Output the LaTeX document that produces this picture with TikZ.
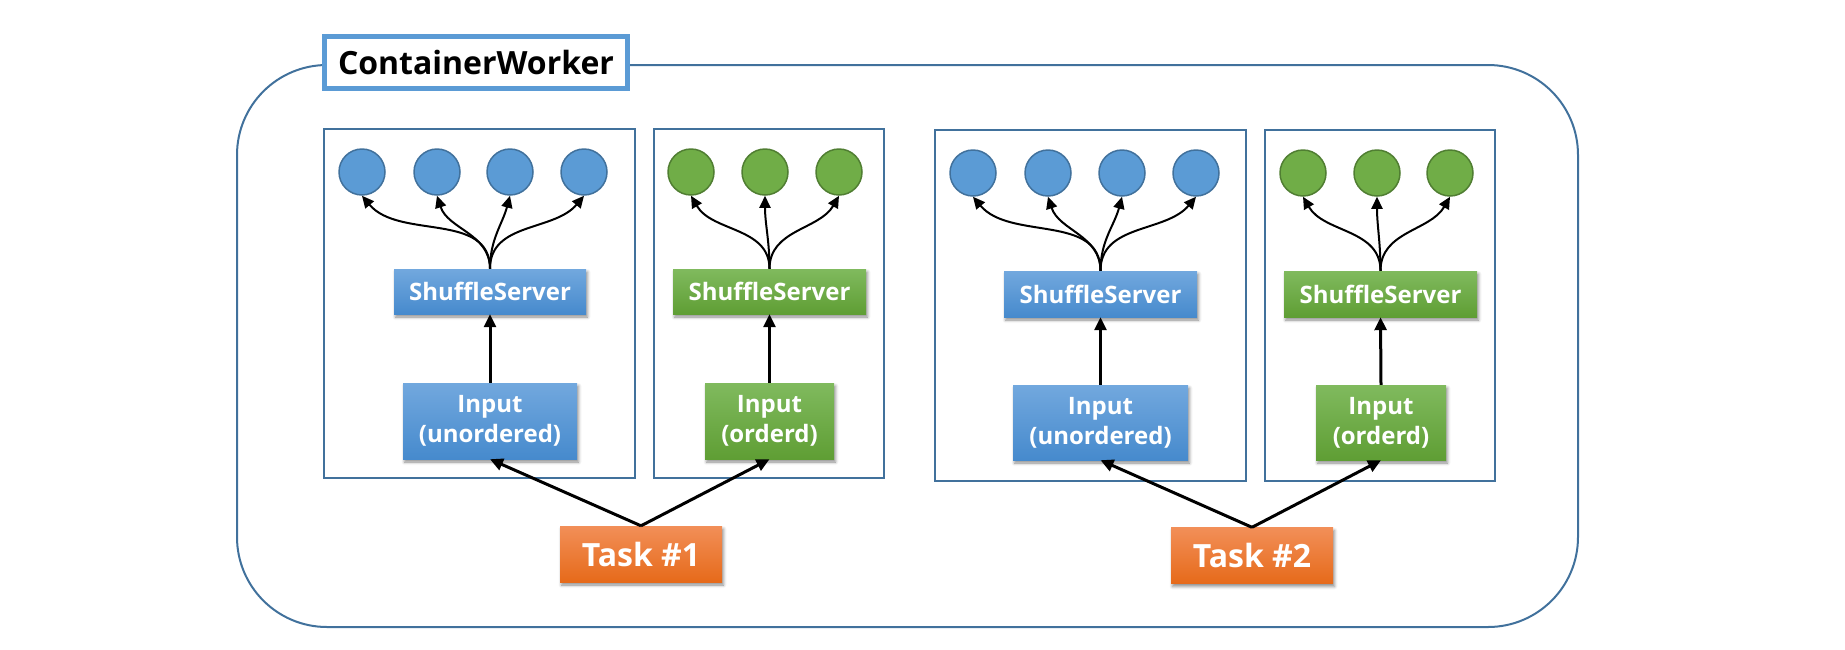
\documentclass[tikz,border=0pt]{standalone}
\usepackage{fontspec}
\setmainfont{Open Sans}
\usepackage{xcolor}
\usetikzlibrary{shapes,arrows.meta,positioning,calc,shadows.blur}

\definecolor{frameblue}{RGB}{65,113,156}
\definecolor{titleblue}{RGB}{91,155,213}
\definecolor{blueTop}{RGB}{114,168,222}
\definecolor{blueBot}{RGB}{70,138,205}
\definecolor{greenTop}{RGB}{128,186,94}
\definecolor{greenBot}{RGB}{95,158,52}
\definecolor{orangeTop}{RGB}{242,143,88}
\definecolor{orangeBot}{RGB}{230,106,26}
\definecolor{dotBlue}{RGB}{91,155,213}
\definecolor{dotGreen}{RGB}{112,173,71}
\definecolor{dotGreenLine}{RGB}{80,126,50}

\begin{document}
\begin{tikzpicture}[x=1pt,y=-1pt,
    box/.style={rectangle,inner sep=0pt,align=center,text=white,
        font=\bfseries\fontsize{24pt}{30pt}\selectfont,
        blur shadow={shadow xshift=1.5pt,shadow yshift=-3pt,shadow blur radius=3pt,shadow opacity=45}},
    bluebox/.style={box,top color=blueTop,bottom color=blueBot},
    greenbox/.style={box,top color=greenTop,bottom color=greenBot},
    taskbox/.style={box,top color=orangeTop,bottom color=orangeBot,
        font=\bfseries\fontsize{32pt}{38pt}\selectfont,minimum width=162pt,minimum height=56pt},
    groupbox/.style={draw=frameblue,line width=2pt,inner sep=0pt},
    dot/.style={circle,minimum size=46pt,inner sep=0pt,line width=1.5pt},
    bluedot/.style={dot,fill=dotBlue,draw=frameblue},
    greendot/.style={dot,fill=dotGreen,draw=dotGreenLine},
    link/.style={-{Triangle[length=13pt,width=12pt]},line width=3pt},
    fan/.style={-{Triangle[length=12pt,width=11pt]},line width=2pt}]
    \useasboundingbox (0,0) rectangle (1845,649);

    % Worker frame and title
    \node[draw=frameblue,line width=2pt,rounded corners=90pt,minimum width=1341pt,minimum height=562pt] (worker) at (907.5,346) {};
    \node[draw=titleblue,line width=5pt,fill=white,minimum width=303pt,minimum height=52pt,
        font=\bfseries\fontsize{32pt}{38pt}\selectfont] (title) at (476,62.5) {ContainerWorker};

    % Shuffle groups
    \node[groupbox,minimum width=311pt,minimum height=349pt] (g1) at (479.5,303.5) {};
    \node[groupbox,minimum width=230pt,minimum height=349pt] (g2) at (769,303.5) {};
    \node[groupbox,minimum width=311pt,minimum height=351pt] (g3) at (1090.5,305.5) {};
    \node[groupbox,minimum width=230pt,minimum height=351pt] (g4) at (1380,305.5) {};

    % Partitions
    \foreach \i/\x in {1/362,2/437,3/510,4/584}
        \node[bluedot] (a\i) at (\x,172) {};
    \foreach \i/\x in {1/691,2/765,3/839}
        \node[greendot] (b\i) at (\x,172) {};
    \foreach \i/\x in {1/973,2/1048,3/1122,4/1196}
        \node[bluedot] (c\i) at (\x,173) {};
    \foreach \i/\x in {1/1303,2/1377,3/1450}
        \node[greendot] (d\i) at (\x,173) {};

    % Servers
    \node[bluebox,minimum width=192pt,minimum height=45pt] (ss1) at (490,291.5) {ShuffleServer};
    \node[greenbox,minimum width=193pt,minimum height=45pt] (ss2) at (769.5,291.5) {ShuffleServer};
    \node[bluebox,minimum width=193pt,minimum height=46pt] (ss3) at (1100.5,294) {ShuffleServer};
    \node[greenbox,minimum width=193pt,minimum height=46pt] (ss4) at (1380.5,294) {ShuffleServer};

    % Inputs
    \node[bluebox,minimum width=174pt,minimum height=76pt] (in1) at (490,421) {Input\\(unordered)};
    \node[greenbox,minimum width=129pt,minimum height=76pt] (in2) at (769.5,421) {Input\\(orderd)};
    \node[bluebox,minimum width=175pt,minimum height=75pt] (in3) at (1100.5,422.5) {Input\\(unordered)};
    \node[greenbox,minimum width=130pt,minimum height=75pt] (in4) at (1381,422.5) {Input\\(orderd)};

    % Tasks
    \node[taskbox] (task1) at (641,554) {Task \#1};
    \node[taskbox] (task2) at (1252,555.5) {Task \#2};

    % Flows
    \draw[link] (task1.north) -- (in1.south);
    \draw[link] (task1.north) -- (in2.south);
    \draw[link] (task2.north) -- (in3.south);
    \draw[link] (task2.north) -- (in4.south);
    \foreach \n in {1,2,3,4}
        \draw[link] (in\n.north) -- (ss\n.south);

    \foreach \i/\a in {1/-50,2/-72,3/-105,4/-130} {
        \draw[fan] (ss1.north) to[out=90,in=\a] (a\i.south);
        \draw[fan] (ss3.north) to[out=90,in=\a] (c\i.south);
    }
    \foreach \i/\a in {1/-60,2/-90,3/-120} {
        \draw[fan] (ss2.north) to[out=90,in=\a] (b\i.south);
        \draw[fan] (ss4.north) to[out=90,in=\a] (d\i.south);
    }
\end{tikzpicture}
\end{document}
